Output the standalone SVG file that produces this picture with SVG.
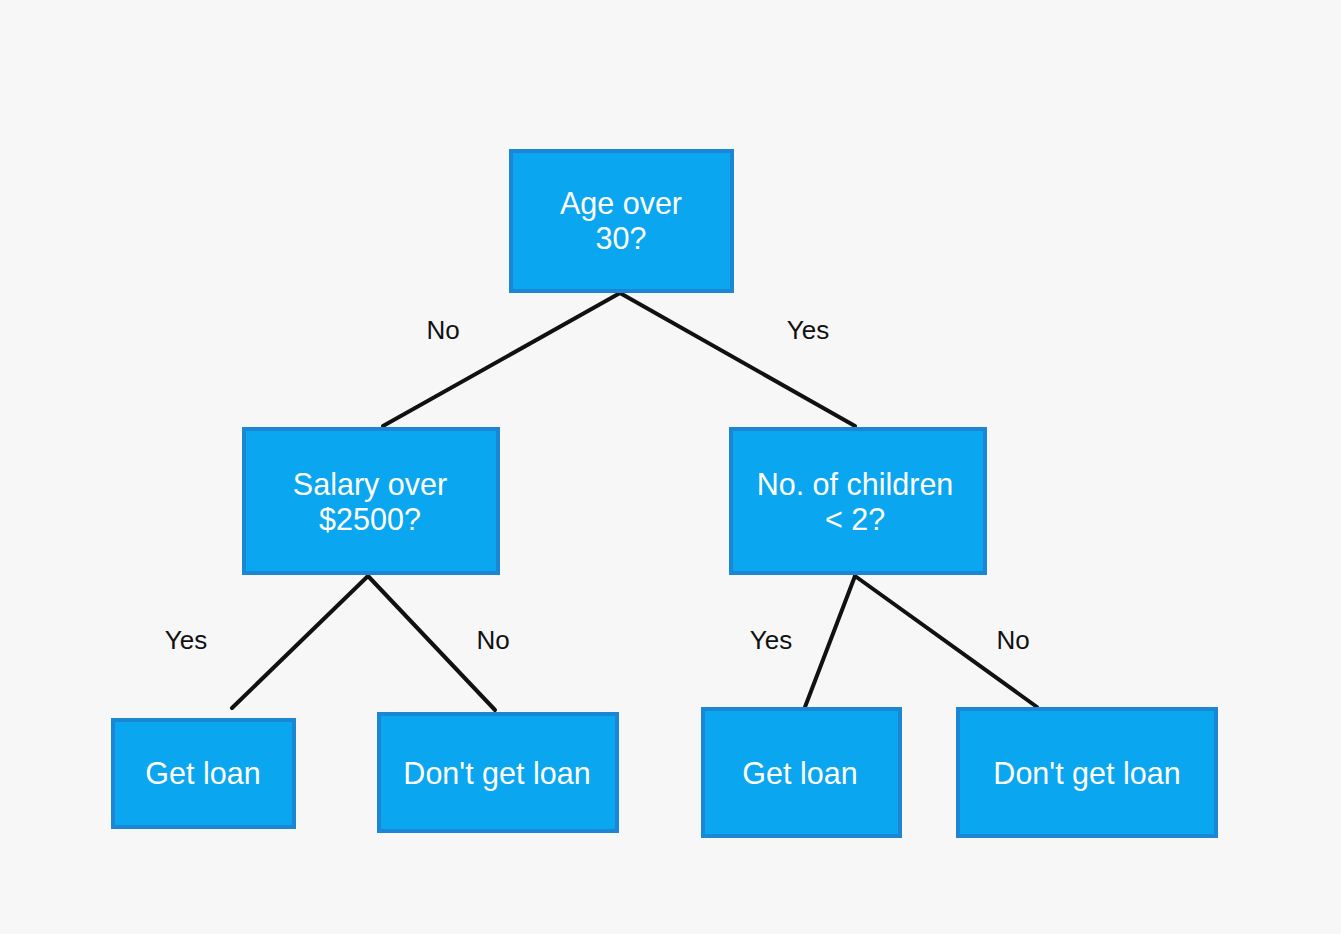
<svg xmlns="http://www.w3.org/2000/svg" width="1341" height="934" viewBox="0 0 1341 934">
<style>
.box{fill:#0aa6f0;stroke:#1b86d4;stroke-width:4}
.bt{font-family:"Liberation Sans",Arial,sans-serif;font-size:30.5px;fill:#ffffff;text-anchor:middle}
.lbl{font-family:"Liberation Sans",Arial,sans-serif;font-size:26px;fill:#111111;text-anchor:middle}
.edge{stroke:#111111;stroke-width:4;fill:none;stroke-linecap:round}
</style>
<rect width="1341" height="934" fill="#f7f7f7"/>
<g id="connectors">
<line class="edge" x1="620" y1="293" x2="383" y2="426"/>
<line class="edge" x1="620" y1="293" x2="855" y2="426"/>
<line class="edge" x1="368" y1="576" x2="232" y2="708"/>
<line class="edge" x1="368" y1="576" x2="495" y2="710"/>
<line class="edge" x1="855" y1="576" x2="805" y2="707"/>
<line class="edge" x1="855" y1="576" x2="1037" y2="707"/>
<text class="lbl" x="443" y="339">No</text>
<text class="lbl" x="808" y="339">Yes</text>
<text class="lbl" x="186" y="649">Yes</text>
<text class="lbl" x="493" y="649">No</text>
<text class="lbl" x="771" y="649">Yes</text>
<text class="lbl" x="1013" y="649">No</text>
</g>
<g id="age">
<rect class="box" x="511" y="151" width="221" height="140"/>
<text class="bt" x="621" y="214">Age over</text>
<text class="bt" x="621" y="249">30?</text>
</g>
<g id="salary">
<rect class="box" x="244" y="429" width="254" height="144"/>
<text class="bt" x="370" y="495">Salary over</text>
<text class="bt" x="370" y="530">$2500?</text>
</g>
<g id="children">
<rect class="box" x="731" y="429" width="254" height="144"/>
<text class="bt" x="855" y="495">No. of children</text>
<text class="bt" x="855" y="530">&lt; 2?</text>
</g>
<g id="getloan1">
<rect class="box" x="113" y="720" width="181" height="107"/>
<text class="bt" x="203" y="784">Get loan</text>
</g>
<g id="dontloan1">
<rect class="box" x="379" y="714" width="238" height="117"/>
<text class="bt" x="497" y="784">Don't get loan</text>
</g>
<g id="getloan2">
<rect class="box" x="703" y="709" width="197" height="127"/>
<text class="bt" x="800" y="784">Get loan</text>
</g>
<g id="dontloan2">
<rect class="box" x="958" y="709" width="258" height="127"/>
<text class="bt" x="1087" y="784">Don't get loan</text>
</g>
</svg>
